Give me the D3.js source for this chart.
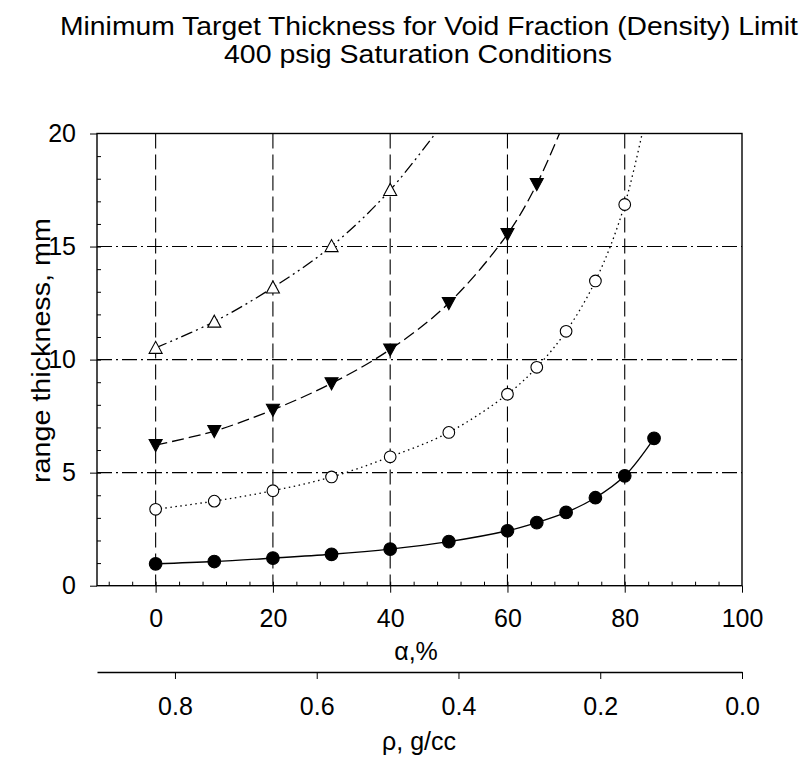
<!DOCTYPE html>
<html>
<head>
<meta charset="utf-8">
<script src="https://cdn.jsdelivr.net/npm/d3@7"></script>
<style>
  body { margin: 0; background: #fff; }
  svg { font-family: "Liberation Sans", Arial, Helvetica, sans-serif; }
  .axis path, .axis line { stroke: #000; }
  .axis text { fill: #000; font-size: 25px; }
</style>
</head>
<body>
<svg width="800" height="760"></svg>
<script>
// data (void fraction %, thickness mm)
var alpha1 = [0, 10, 20, 30, 40, 50, 60, 65, 70, 75, 80, 85];
var thick1 = [0.97, 1.07, 1.22, 1.39, 1.62, 1.95, 2.43, 2.79, 3.24, 3.89, 4.86, 6.52];

var alpha2 = [0, 10, 20, 30, 40, 50, 60, 65, 70, 75, 80, 85];
var thick2 = [3.38, 3.74, 4.20, 4.81, 5.70, 6.78, 8.47, 9.66, 11.25, 13.48, 16.86, 22.5];

var alpha3 = [0, 10, 20, 30, 40, 50, 60, 65, 70];
var thick3 = [6.22, 6.84, 7.78, 8.95, 10.45, 12.5, 15.55, 17.76, 20.7];

var alpha4 = [0, 10, 20, 30, 40, 50];
var thick4 = [10.52, 11.68, 13.19, 15.02, 17.5, 20.8];

var xTicks = [0, 20, 40, 60, 80, 100];
var yTicks = [0, 5, 10, 15, 20];
var rhoTicks = [0.8, 0.6, 0.4, 0.2, 0.0];
var rhoAtMinAlpha = 0.91;   // density scale at alpha = -10

var svg = d3.select("svg"),
    margin = {top: 133.5, right: 58, bottom: 174.3, left: 97},
    width = +svg.attr("width"),
    height = +svg.attr("height"),
    cWidth = width - margin.left - margin.right,
    cHeight = height - margin.top - margin.bottom;

var g = svg.append("g").attr("transform", "translate(" + margin.left + "," + margin.top + ")");

var x = d3.scaleLinear().domain([-10, 100]).range([0, cWidth]);
var y = d3.scaleLinear().domain([0, 20]).range([cHeight, 0]);
var rho = d3.scaleLinear().domain([rhoAtMinAlpha, 0]).range([0, cWidth]);

// grid lines
g.append("g").selectAll("line")
  .data(xTicks.filter(function(d) { return d > -10 && d < 100; }))
  .enter().append("line")
  .attr("x1", function(d) { return x(d); }).attr("x2", function(d) { return x(d); })
  .attr("y1", 0).attr("y2", cHeight)
  .attr("stroke", "#000").attr("stroke-width", 1.1)
  .attr("stroke-dasharray", "15,6");

g.append("g").selectAll("line")
  .data(yTicks.filter(function(d) { return d > 0 && d < 20; }))
  .enter().append("line")
  .attr("x1", 0).attr("x2", cWidth)
  .attr("y1", function(d) { return y(d); }).attr("y2", function(d) { return y(d); })
  .attr("stroke", "#000").attr("stroke-width", 1.1)
  .attr("stroke-dasharray", "15,4,2,4");

// minor ticks (inside)
var xMinor = d3.range(-8, 100, 4);
var yMinor = d3.range(1, 20, 1);
g.append("g")
  .attr("class", "axis")
  .attr("transform", "translate(0," + cHeight + ")")
  .call(d3.axisBottom(x).tickValues(xMinor).tickSize(-4).tickFormat(""))
  .select(".domain").remove();
g.append("g")
  .attr("class", "axis")
  .call(d3.axisLeft(y).tickValues(yMinor).tickSize(-4).tickFormat(""))
  .select(".domain").remove();

// major axes
g.append("g")
  .attr("class", "axis axis--x")
  .attr("transform", "translate(0," + cHeight + ")")
  .call(d3.axisBottom(x).tickValues(xTicks).tickSizeInner(7).tickSizeOuter(0).tickPadding(17))
  .select(".domain").remove();
g.append("g")
  .attr("class", "axis axis--y")
  .call(d3.axisLeft(y).tickValues(yTicks).tickSizeInner(7).tickSizeOuter(0).tickPadding(14))
  .select(".domain").remove();

// frame
g.append("rect")
  .attr("width", cWidth).attr("height", cHeight)
  .attr("fill", "none").attr("stroke", "#000").attr("stroke-width", 1.4);

// density axis
g.append("g")
  .attr("class", "axis axis--rho")
  .attr("transform", "translate(0," + (cHeight + 86.3) + ")")
  .call(d3.axisBottom(rho).tickValues(rhoTicks).tickSizeInner(7).tickSizeOuter(0).tickPadding(18)
    .tickFormat(d3.format(".1f")))
  .select(".domain").attr("stroke-width", 1.3);

// series
var clip = svg.append("clipPath").attr("id", "plotclip")
  .append("rect").attr("width", cWidth).attr("height", cHeight);

var series = [
  {a: alpha1, t: thick1, dash: null, marker: "fcircle"},
  {a: alpha2, t: thick2, dash: "1.5,3.5", marker: "ocircle"},
  {a: alpha3, t: thick3, dash: "12,5", marker: "ftri"},
  {a: alpha4, t: thick4, dash: "12,4,2,4,2,4", marker: "otri"}
];

var line = d3.line()
  .x(function(d) { return x(d[0]); })
  .y(function(d) { return y(d[1]); })
  .curve(d3.curveCatmullRom.alpha(0.5));

var plot = g.append("g").attr("clip-path", "url(#plotclip)");

series.forEach(function(s) {
  var pts = s.a.map(function(v, i) { return [v, s.t[i]]; });
  plot.append("path")
    .datum(pts)
    .attr("d", line)
    .attr("fill", "none")
    .attr("stroke", "#000")
    .attr("stroke-width", 1.3)
    .attr("stroke-dasharray", s.dash);
});

series.forEach(function(s) {
  var pts = s.a.map(function(v, i) { return [v, s.t[i]]; })
    .filter(function(d) { return d[1] <= 20; });
  var m = plot.append("g").selectAll("path").data(pts).enter().append("path")
    .attr("transform", function(d) { return "translate(" + x(d[0]) + "," + y(d[1]) + ")"; })
    .attr("stroke", "#000").attr("stroke-width", 1.1);
  if (s.marker === "fcircle") {
    m.attr("d", d3.symbol().type(d3.symbolCircle).size(Math.PI * 40)).attr("fill", "#000");
  } else if (s.marker === "ocircle") {
    m.attr("d", d3.symbol().type(d3.symbolCircle).size(Math.PI * 34)).attr("fill", "#fff");
  } else if (s.marker === "ftri") {
    m.attr("d", "M-6.5,-5.5L6.5,-5.5L0,6.5Z").attr("fill", "#000");
  } else {
    m.attr("d", "M-6.5,5.5L6.5,5.5L0,-6.5Z").attr("fill", "#fff");
  }
});

// titles and axis labels
svg.append("text")
  .attr("x", 60).attr("y", 35)
  .attr("font-size", 25)
  .attr("textLength", 738).attr("lengthAdjust", "spacingAndGlyphs")
  .text("Minimum Target Thickness for Void Fraction (Density) Limit");
svg.append("text")
  .attr("x", 224).attr("y", 63)
  .attr("font-size", 25)
  .attr("textLength", 388).attr("lengthAdjust", "spacingAndGlyphs")
  .text("400 psig Saturation Conditions");

svg.append("text")
  .attr("transform", "translate(50," + (margin.top + cHeight / 2 - 9) + ") rotate(-90)")
  .attr("text-anchor", "middle")
  .attr("font-size", 25)
  .attr("textLength", 265).attr("lengthAdjust", "spacingAndGlyphs")
  .text("range thickness, mm");

svg.append("text")
  .attr("x", 416).attr("y", 660)
  .attr("text-anchor", "middle")
  .attr("font-size", 25)
  .text("α,%");

svg.append("text")
  .attr("x", 419).attr("y", 750)
  .attr("text-anchor", "middle")
  .attr("font-size", 25)
  .text("ρ, g/cc");
</script>
</body>
</html>
